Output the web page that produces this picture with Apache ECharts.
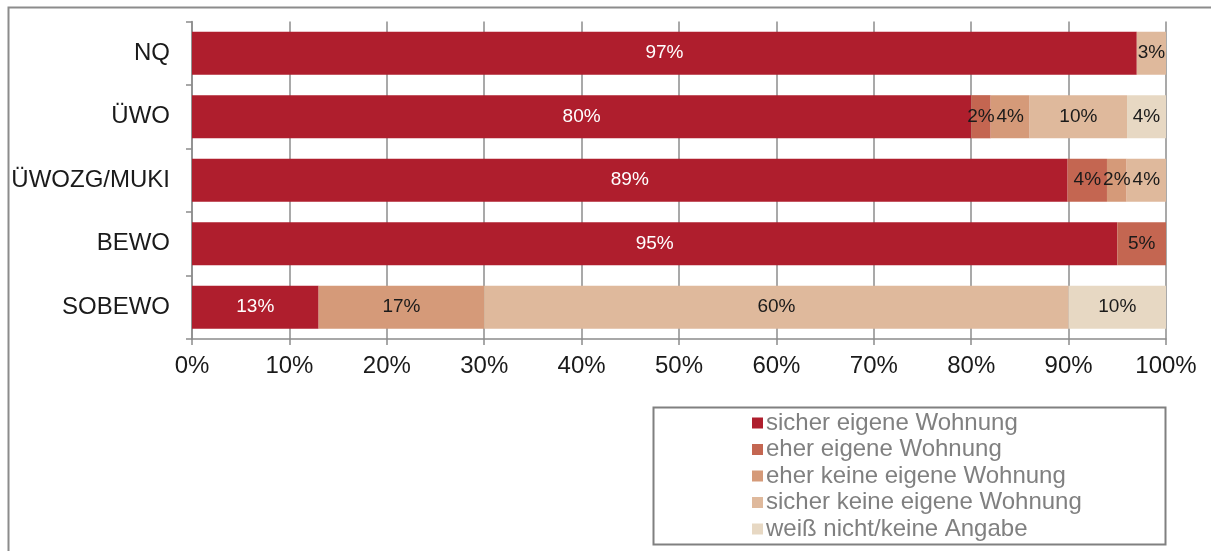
<!DOCTYPE html>
<html>
<head>
<meta charset="utf-8">
<script src="https://cdn.jsdelivr.net/npm/echarts@6/dist/echarts.min.js"></script>
<style>
  html, body { margin: 0; padding: 0; background: #ffffff; }
  #chart { width: 1211px; height: 551px; }
</style>
</head>
<body>
<div id="chart"></div>
<script>
// Housing groups, top to bottom
const categories = ['NQ', 'ÜWO', 'ÜWOZG/MUKI', 'BEWO', 'SOBEWO'];

// Answer shares in percent per group
const sicherEigene      = [97, 80, 89, 95, 13];
const eherEigene        = [0, 2, 4, 5, 0];
const eherKeine         = [0, 4, 2, 0, 17];
const sicherKeine       = [3, 10, 4, 0, 60];
const weissNicht        = [0, 4, 0, 0, 10];

const seriesNames = [
  'sicher eigene Wohnung',
  'eher eigene Wohnung',
  'eher keine eigene Wohnung',
  'sicher keine eigene Wohnung',
  'weiß nicht/keine Angabe'
];
const xTickLabels = ['0%', '10%', '20%', '30%', '40%', '50%', '60%', '70%', '80%', '90%', '100%'];

const seriesValues = [sicherEigene, eherEigene, eherKeine, sicherKeine, weissNicht];
const colors = ['#AF1E2D', '#C46651', '#D59A79', '#DFB99C', '#E7D8C3'];
const labelColors = ['#ffffff', '#1a1a1a', '#1a1a1a', '#1a1a1a', '#1a1a1a'];

// 100% stacked: each row is scaled to its own total
const rowTotals = categories.map((_, i) => seriesValues.reduce((s, arr) => s + arr[i], 0));

const chart = echarts.init(document.getElementById('chart'), null, { renderer: 'canvas' });

const series = seriesValues.map((vals, k) => ({
  name: seriesNames[k],
  type: 'bar',
  stack: 'total',
  barCategoryGap: '32%',
  itemStyle: { color: colors[k] },
  data: vals.map((v, i) => ({ value: v / rowTotals[i] * 100, raw: v })),
  label: {
    show: true,
    position: 'inside',
    color: labelColors[k],
    fontFamily: 'Liberation Sans, Arial, sans-serif',
    fontSize: 19,
    formatter: p => (p.data.raw ? p.data.raw + '%' : '')
  },
  emphasis: { disabled: true }
}));

chart.setOption({
  animation: false,
  textStyle: { fontFamily: 'Liberation Sans, Arial, sans-serif' },
  grid: { left: 192, right: 45, top: 21.5, bottom: 212, containLabel: false },
  xAxis: {
    type: 'value',
    min: 0,
    max: 100,
    interval: 10,
    axisLine: { show: true, lineStyle: { color: '#8c8c8c', width: 1.5 } },
    axisTick: { show: true, length: 6, lineStyle: { color: '#8c8c8c', width: 1.5 } },
    splitLine: { show: true, lineStyle: { color: '#8c8c8c', width: 1.5 } },
    axisLabel: {
      color: '#1a1a1a',
      fontSize: 24,
      margin: 15,
      formatter: v => xTickLabels[Math.round(v / 10)]
    }
  },
  yAxis: {
    type: 'category',
    inverse: true,
    data: categories,
    axisLine: { show: true, lineStyle: { color: '#8c8c8c', width: 1.5 } },
    axisTick: { show: true, length: 6, lineStyle: { color: '#8c8c8c', width: 1.5 } },
    axisLabel: { color: '#1a1a1a', fontSize: 24, margin: 22 }
  },
  legend: {
    orient: 'vertical',
    left: 747,
    top: 406,
    itemWidth: 11,
    itemHeight: 11,
    itemGap: 2.5,
    icon: 'rect',
    selectedMode: false,
    data: seriesNames,
    textStyle: { color: '#808080', fontSize: 24, lineHeight: 24, padding: [0, 0, 0, -2] }
  },
  graphic: [
    {
      type: 'rect',
      silent: true,
      shape: { x: 8.5, y: 7.5, width: 1400, height: 700 },
      style: { fill: 'none', stroke: '#8c8c8c', lineWidth: 2 }
    },
    {
      type: 'rect',
      silent: true,
      shape: { x: 653.5, y: 407.5, width: 512, height: 137 },
      style: { fill: 'none', stroke: '#808080', lineWidth: 2 }
    }
  ],
  series: series
});
</script>
</body>
</html>
